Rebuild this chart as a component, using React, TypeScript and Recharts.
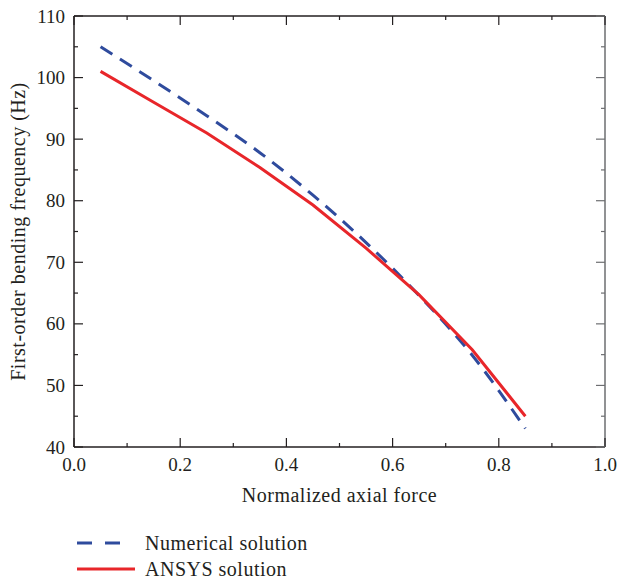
import { LineChart, Line, XAxis, YAxis, Legend, Label } from "recharts";

const forceValues = [0.05, 0.15, 0.25, 0.35, 0.45, 0.55, 0.65, 0.75, 0.85];
const numericalHz = [105.0, 99.5, 93.8, 87.8, 80.9, 73.2, 64.6, 54.9, 43.0];
const ansysHz = [101.0, 96.0, 91.0, 85.4, 79.3, 72.3, 64.7, 55.8, 45.0];

const xMajorTicks = [0, 0.2, 0.4, 0.6, 0.8, 1.0];
const xMinorTicks = [0.1, 0.3, 0.5, 0.7, 0.9];
const yMajorTicks = [40, 50, 60, 70, 80, 90, 100, 110];
const yMinorTicks = [45, 55, 65, 75, 85, 95, 105];

const seriesNames = ["Numerical solution", "ANSYS solution"];

const data = forceValues.map((f, i) => ({
  force: f,
  numerical: numericalHz[i],
  ansys: ansysHz[i],
}));

const FONT = "'Liberation Serif', 'DejaVu Serif', serif";
const INK = "#231f20";
const GREY = "#6d6e71";
const BLUE = "#2f4b9d";
const RED = "#e8262a";
const MAJOR = 9;
const MINOR = 4;
const TICK_FS = 19;
const TEXT_FS = 20;

const xTicks = [...xMajorTicks, ...xMinorTicks].sort((a, b) => a - b);
const yTicks = [...yMajorTicks, ...yMinorTicks].sort((a, b) => a - b);

// inward ticks with minor marks; labels only on major ones
function AxisTick(props: any) {
  const { x, y, payload, side, showLabel } = props;
  const v = payload.value;
  const major = side === "bottom" || side === "top" ? xMajorTicks.includes(v) : yMajorTicks.includes(v);
  const len = major ? MAJOR : MINOR;
  let line;
  if (side === "bottom") line = <line x1={x} x2={x} y1={y} y2={y - len} stroke={INK} strokeWidth={1.2} />;
  else if (side === "top") line = <line x1={x} x2={x} y1={y} y2={y + len} stroke={INK} strokeWidth={1.2} />;
  else if (side === "left") line = <line x1={x} x2={x + len} y1={y} y2={y} stroke={INK} strokeWidth={1.2} />;
  else line = <line x1={x} x2={x - len} y1={y} y2={y} stroke={GREY} strokeWidth={1.2} />;

  let label = null;
  if (showLabel && major) {
    if (side === "bottom") {
      label = (
        <text x={x} y={y + 24} textAnchor="middle" fontFamily={FONT} fontSize={TICK_FS} fill={INK}>
          {v.toFixed(1)}
        </text>
      );
    } else {
      label = (
        <text x={x - 9} y={y + 6.5} textAnchor="end" fontFamily={FONT} fontSize={TICK_FS} fill={INK}>
          {v}
        </text>
      );
    }
  }
  return (
    <g>
      {line}
      {label}
    </g>
  );
}

function LegendBox(props: any) {
  const items = (props.payload || [])
    .filter((a: any) => seriesNames.includes(a.value))
    .sort((a: any, b: any) => seriesNames.indexOf(a.value) - seriesNames.indexOf(b.value));
  return (
    <svg width={617} height={66} style={{ display: "block" }}>
      {items.map((item: any, i: number) => {
        const cy = 28 + i * 26;
        return (
          <g key={item.value}>
            {i === 0 ? (
              <>
                <line x1={77} x2={92} y1={cy} y2={cy} stroke={item.color} strokeWidth={3} />
                <line x1={105} x2={120} y1={cy} y2={cy} stroke={item.color} strokeWidth={3} />
              </>
            ) : (
              <line x1={77} x2={135} y1={cy} y2={cy} stroke={item.color} strokeWidth={3} />
            )}
            <text x={145} y={cy + 6.5} fontFamily={FONT} fontSize={TEXT_FS} letterSpacing={0.5} fill={INK}>
              {item.value}
            </text>
          </g>
        );
      })}
    </svg>
  );
}

export default function App() {
  return (
    <div style={{ position: "absolute", left: 0, top: 0, width: 617, height: 583, background: "#fff" }}>
      <LineChart width={617} height={583} data={data} margin={{ top: 15, right: 11, bottom: 2, left: 0 }}>
        <XAxis
          dataKey="force"
          type="number"
          domain={[0, 1]}
          ticks={xTicks}
          interval={0}
          tickSize={0}
          tickMargin={0}
          height={68}
          axisLine={{ stroke: INK, strokeWidth: 1.5 }}
          tickLine={false}
          tick={(p: any) => <AxisTick {...p} side="bottom" showLabel />}
        >
          <Label
            value="Normalized axial force"
            position="insideBottom"
            offset={13}
            style={{ fontFamily: FONT, fontSize: TEXT_FS, letterSpacing: 0.5, fill: INK }}
          />
        </XAxis>
        <XAxis
          xAxisId="top"
          orientation="top"
          dataKey="force"
          type="number"
          domain={[0, 1]}
          ticks={xTicks}
          interval={0}
          tickSize={0}
          tickMargin={0}
          height={1}
          axisLine={{ stroke: INK, strokeWidth: 1.5 }}
          tickLine={false}
          tick={(p: any) => <AxisTick {...p} side="top" />}
        />
        <YAxis
          type="number"
          domain={[40, 110]}
          ticks={yTicks}
          interval={0}
          tickSize={0}
          tickMargin={0}
          width={74}
          axisLine={{ stroke: INK, strokeWidth: 1.5 }}
          tickLine={false}
          tick={(p: any) => <AxisTick {...p} side="left" showLabel />}
        >
          <Label
            value="First-order bending frequency (Hz)"
            angle={-90}
            position="insideLeft"
            offset={18}
            style={{ fontFamily: FONT, fontSize: TEXT_FS, letterSpacing: 0.5, fill: INK, textAnchor: "middle" }}
          />
        </YAxis>
        <YAxis
          yAxisId="right"
          orientation="right"
          type="number"
          domain={[40, 110]}
          ticks={yTicks}
          interval={0}
          tickSize={0}
          tickMargin={0}
          width={1}
          axisLine={{ stroke: GREY, strokeWidth: 1.5 }}
          tickLine={false}
          tick={(p: any) => <AxisTick {...p} side="right" />}
        />
        <Line
          name="Numerical solution"
          dataKey="numerical"
          type="monotone"
          stroke={BLUE}
          strokeWidth={3}
          strokeDasharray="14 9"
          dot={false}
          isAnimationActive={false}
        />
        <Line
          name="ANSYS solution"
          dataKey="ansys"
          type="linear"
          stroke={RED}
          strokeWidth={3}
          dot={false}
          isAnimationActive={false}
        />
        {/* hidden series so the top and right frame axes get drawn */}
        <Line
          name="frame"
          dataKey="ansys"
          xAxisId="top"
          yAxisId="right"
          stroke="none"
          dot={false}
          legendType="none"
          activeDot={false}
          isAnimationActive={false}
        />
        <Legend verticalAlign="bottom" align="left" wrapperStyle={{ left: 0, width: 617 }} content={LegendBox} />
      </LineChart>
    </div>
  );
}
